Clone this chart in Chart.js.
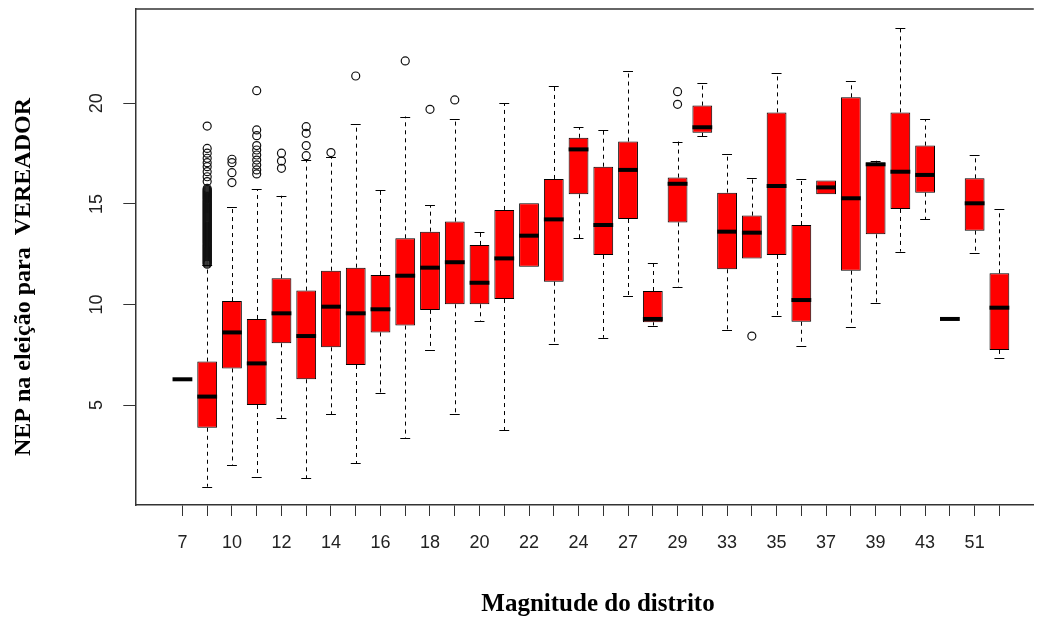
<!DOCTYPE html>
<html>
<head>
<meta charset="utf-8">
<title>NEP na eleição para vereador por magnitude do distrito</title>
<script src="https://cdn.jsdelivr.net/npm/chart.js@4.4.1/dist/chart.umd.min.js"></script>
<style>
  html, body { margin: 0; padding: 0; background: #fff; overflow: hidden; }
  #wrap { width: 1039px; height: 617px; }
</style>
</head>
<body>
<div id="wrap"><canvas id="nepChart" width="1039" height="617"></canvas></div>
<script>
// Magnitude do distrito, one box per magnitude
const magnitudes = ['7', '9', '10', '11', '12', '13', '14', '15', '16', '17', '18', '19',
    '20', '21', '22', '23', '24', '25', '27', '28', '29', '31', '33', '34',
    '35', '36', '37', '38', '39', '41', '43', '45', '51', '55'];

// Box statistics (NEP)
const whiskerLow = [6.28, 0.94, 2.02, 1.44, 4.37, 1.35, 4.54, 2.10, 5.61, 3.34, 7.74, 4.54,
    9.19, 3.76, 11.88, 8.02, 13.29, 8.35, 10.42, 8.95, 10.88, 18.38, 8.73, 12.29,
    9.43, 7.95, 15.48, 8.90, 10.09, 12.63, 14.23, 9.28, 12.54, 7.35];
const q1 = [6.28, 3.87, 6.82, 5.00, 8.07, 6.28, 7.87, 6.99, 8.61, 8.95, 9.73, 10.01,
    10.01, 10.27, 11.88, 11.13, 15.48, 12.46, 14.25, 9.11, 14.08, 18.54, 11.75, 12.29,
    12.46, 9.14, 15.48, 11.68, 13.49, 14.75, 15.56, 9.28, 13.67, 7.74];
const median = [6.28, 5.42, 8.61, 7.07, 9.56, 8.43, 9.89, 9.56, 9.76, 11.43, 11.83, 12.10,
    11.08, 12.29, 13.42, 14.23, 17.71, 13.95, 16.69, 9.28, 16.00, 18.81, 13.62, 13.57,
    15.89, 10.22, 15.82, 15.28, 16.97, 16.60, 16.44, 9.28, 15.03, 9.84];
const q3 = [6.28, 7.16, 10.17, 9.28, 11.30, 10.69, 11.68, 11.83, 11.47, 13.29, 13.62, 14.12,
    12.96, 14.70, 15.03, 16.24, 18.29, 16.85, 18.10, 10.67, 16.31, 19.89, 15.56, 14.42,
    19.55, 13.95, 16.16, 20.30, 17.05, 19.55, 17.90, 9.28, 16.27, 11.55];
const whiskerHigh = [6.28, 11.96, 14.83, 15.74, 15.41, 17.18, 17.35, 18.96, 15.69, 19.34, 14.95, 19.22,
    13.62, 20.00, 15.03, 20.88, 18.81, 18.68, 21.63, 12.08, 18.10, 21.03, 17.48, 16.27,
    21.49, 16.22, 16.16, 21.11, 17.15, 23.73, 19.22, 9.28, 17.42, 14.75];

// Outliers per magnitude (the solid run at magnitude 9 is listed point by point)
const outliers = [
    [],
    [12.00, 12.05, 12.10, 12.15, 12.20, 12.25, 12.30, 12.35, 12.40, 12.45,
     12.50, 12.55, 12.60, 12.65, 12.70, 12.75, 12.80, 12.85, 12.90, 12.95,
     13.00, 13.05, 13.10, 13.15, 13.20, 13.25, 13.30, 13.35, 13.40, 13.45,
     13.50, 13.55, 13.60, 13.65, 13.70, 13.75, 13.80, 13.85, 13.90, 13.95,
     14.00, 14.05, 14.10, 14.15, 14.20, 14.25, 14.30, 14.35, 14.40, 14.45,
     14.50, 14.55, 14.60, 14.65, 14.70, 14.75, 14.80, 14.85, 14.90, 14.95,
     15.00, 15.05, 15.10, 15.15, 15.20, 15.25, 15.30, 15.35, 15.40, 15.45,
     15.50, 15.55, 15.60, 15.65, 15.70, 15.77,
     16.11, 16.35, 16.60, 16.85, 17.05, 17.27, 17.52, 17.76, 18.87],
    [16.06, 16.55, 17.05, 17.22],
    [16.49, 16.69, 16.94, 17.18, 17.43, 17.68, 17.90, 18.39, 18.68, 20.63],
    [16.77, 17.13, 17.52],
    [17.40, 17.90, 18.51, 18.84],
    [17.55],
    [21.36],
    [],
    [22.11],
    [19.70],
    [20.17],
    [], [], [], [], [], [], [], [],
    [19.95, 20.58],
    [], [],
    [8.43],
    [], [], [], [], [], [], [], [], [], []
];

const yTicks = [5, 10, 15, 20];

const boxData = magnitudes.map((m, i) => ({ x: i, y: [q1[i], q3[i]] }));
const outlierData = [];
outliers.forEach((list, i) => list.forEach(v => outlierData.push({ x: i, y: v })));

// Whiskers, staples, medians, rotated y labels, titles and top frame line
const boxPlotPlugin = {
    id: 'boxPlot',
    afterDatasetsDraw(chart) {
        const ctx = chart.ctx;
        const xs = chart.scales.x;
        const ys = chart.scales.y;
        const bars = chart.getDatasetMeta(0).data;
        ctx.save();
        ctx.strokeStyle = '#000';
        magnitudes.forEach((m, i) => {
            const cx = xs.getPixelForValue(i);
            const w = bars[i].width;
            const yq1 = ys.getPixelForValue(q1[i]);
            const yq3 = ys.getPixelForValue(q3[i]);
            const yLo = ys.getPixelForValue(whiskerLow[i]);
            const yHi = ys.getPixelForValue(whiskerHigh[i]);
            ctx.lineWidth = 1;
            [[yq3, yHi, whiskerHigh[i] > q3[i]], [yq1, yLo, whiskerLow[i] < q1[i]]].forEach(([a, b, show]) => {
                if (!show) return;
                ctx.setLineDash([4, 4]);
                ctx.beginPath();
                ctx.moveTo(Math.round(cx) + 0.5, a);
                ctx.lineTo(Math.round(cx) + 0.5, b);
                ctx.stroke();
                ctx.setLineDash([]);
                ctx.beginPath();
                ctx.moveTo(cx - w / 4, Math.round(b) + 0.5);
                ctx.lineTo(cx + w / 4, Math.round(b) + 0.5);
                ctx.stroke();
            });
            const ym = ys.getPixelForValue(median[i]);
            ctx.lineWidth = 4;
            ctx.lineCap = 'butt';
            ctx.beginPath();
            ctx.moveTo(cx - w / 2, ym);
            ctx.lineTo(cx + w / 2, ym);
            ctx.stroke();
        });

        const area = chart.chartArea;
        ctx.strokeStyle = '#333';
        ctx.lineWidth = 1.5;
        ctx.beginPath();
        ctx.moveTo(area.left, area.top);
        ctx.lineTo(area.right, area.top);
        ctx.stroke();

        ctx.fillStyle = '#222';
        ctx.font = "18px 'Liberation Sans', Arial, sans-serif";
        ctx.textAlign = 'center';
        ctx.textBaseline = 'middle';
        yTicks.forEach(v => {
            ctx.save();
            ctx.translate(area.left - 38, ys.getPixelForValue(v));
            ctx.rotate(-Math.PI / 2);
            ctx.fillText(String(v), 0, 0);
            ctx.restore();
        });

        ctx.fillStyle = '#000';
        ctx.font = "bold 24px 'Liberation Serif', 'Times New Roman', serif";
        ctx.save();
        ctx.translate(24, 277);
        ctx.rotate(-Math.PI / 2);
        ctx.fillText('NEP na eleição para  VEREADOR', 0, 0);
        ctx.restore();

        ctx.font = "bold 25px 'Liberation Serif', 'Times New Roman', serif";
        ctx.fillText('Magnitude do distrito', 598, 605);
        ctx.restore();
    }
};

new Chart(document.getElementById('nepChart'), {
    type: 'bar',
    data: {
        datasets: [
            {
                type: 'bar',
                data: boxData,
                backgroundColor: '#ff0000',
                borderColor: '#000',
                borderWidth: 1,
                borderSkipped: false,
                barPercentage: 0.8,
                categoryPercentage: 1.0
            },
            {
                type: 'scatter',
                data: outlierData,
                pointStyle: 'circle',
                pointRadius: 4,
                pointBorderWidth: 1.2,
                pointBorderColor: '#111',
                pointBackgroundColor: 'rgba(0,0,0,0)',
                showLine: false
            }
        ]
    },
    options: {
        responsive: false,
        animation: false,
        layout: { padding: { top: 9, left: 0, right: 0, bottom: 0 } },
        plugins: {
            legend: { display: false },
            tooltip: { enabled: false }
        },
        scales: {
            x: {
                type: 'linear',
                offset: false,
                min: -1.904,
                max: 34.39,
                afterBuildTicks: (scale) => { scale.ticks = magnitudes.map((m, i) => ({ value: i })); },
                afterFit: (scale) => { scale.height = 112; },
                grid: { offset: false, drawOnChartArea: false, drawTicks: true, tickLength: 11, color: '#333' },
                border: { display: true, color: '#333', width: 1.5 },
                ticks: {
                    autoSkip: false,
                    maxRotation: 0,
                    padding: 16,
                    color: '#222',
                    font: { size: 18, family: "'Liberation Sans', Arial, sans-serif" },
                    callback: (value, index) => (index % 2 === 0 ? magnitudes[value] : '')
                }
            },
            y: {
                type: 'linear',
                min: 0.03,
                max: 24.69,
                afterBuildTicks: (scale) => { scale.ticks = yTicks.map(v => ({ value: v })); },
                afterFit: (scale) => { scale.width = 135.3; },
                grid: { drawOnChartArea: false, drawTicks: true, tickLength: 12, color: '#333' },
                border: { display: true, color: '#333', width: 1.5 },
                ticks: { display: false }
            }
        }
    },
    plugins: [boxPlotPlugin]
});
</script>
</body>
</html>
